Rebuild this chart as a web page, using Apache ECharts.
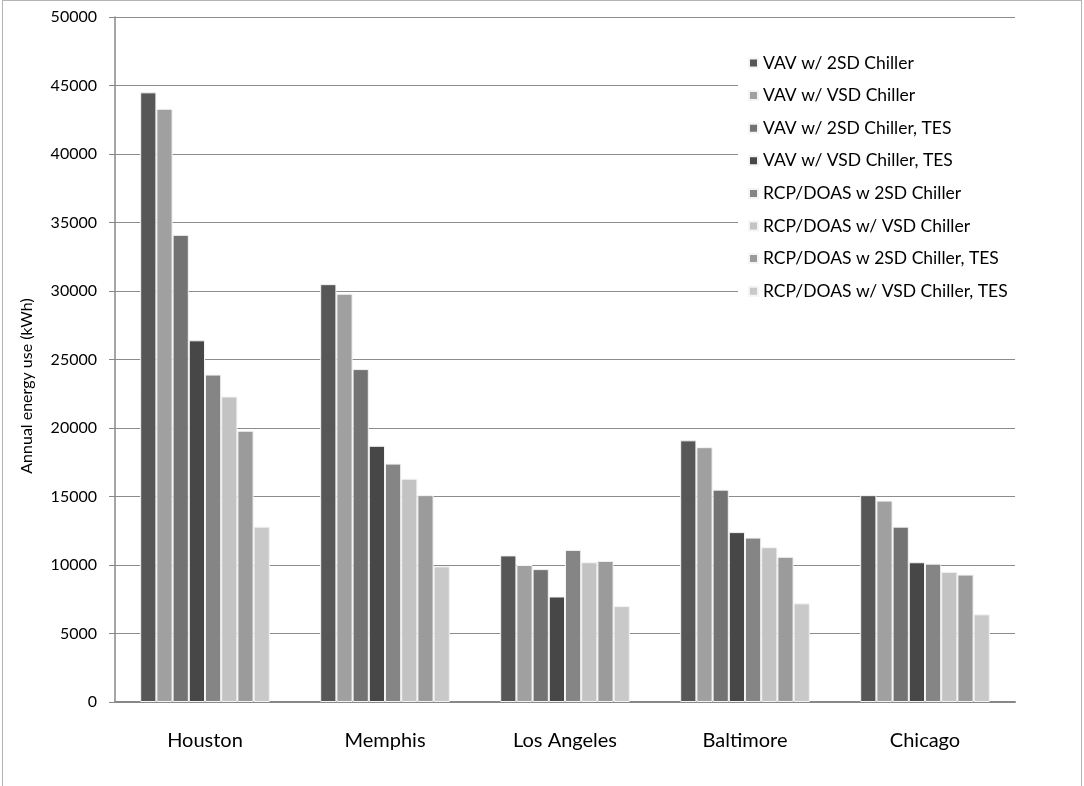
<!DOCTYPE html>
<html>
<head>
<meta charset="utf-8">
<script src="https://cdn.jsdelivr.net/npm/echarts@6/dist/echarts.min.js"></script>
<style>
  html, body { margin: 0; padding: 0; background: #fff; }
  #frame { position: absolute; left: 2px; top: 0; width: 1080px; height: 800px; border: 1px solid #b4b4b4; box-sizing: border-box; }
  #chart { position: absolute; left: 0; top: 0; width: 1084px; height: 786px; }
</style>
</head>
<body>
<div id="frame"></div>
<div id="chart"></div>
<script>
// Cities on the category axis
const cities = ['Houston', 'Memphis', 'Los Angeles', 'Baltimore', 'Chicago'];

// System configurations (one bar series each)
const systems = [
  'VAV w/ 2SD Chiller',
  'VAV w/ VSD Chiller',
  'VAV w/ 2SD Chiller, TES',
  'VAV w/ VSD Chiller, TES',
  'RCP/DOAS w 2SD Chiller',
  'RCP/DOAS w/ VSD Chiller',
  'RCP/DOAS w 2SD Chiller, TES',
  'RCP/DOAS w/ VSD Chiller, TES'
];

// Annual energy use (kWh) per city, one array per system
const vav2sd       = [44500, 30500, 10700, 19100, 15100];
const vavVsd       = [43300, 29800, 10000, 18600, 14700];
const vav2sdTes    = [34100, 24300,  9700, 15500, 12800];
const vavVsdTes    = [26400, 18700,  7700, 12400, 10200];
const rcp2sd       = [23900, 17400, 11100, 12000, 10100];
const rcpVsd       = [22300, 16300, 10200, 11300,  9500];
const rcp2sdTes    = [19800, 15100, 10300, 10600,  9300];
const rcpVsdTes    = [12800,  9900,  7000,  7200,  6400];

const yTitle = 'Annual energy use (kWh)';

const seriesValues = [vav2sd, vavVsd, vav2sdTes, vavVsdTes, rcp2sd, rcpVsd, rcp2sdTes, rcpVsdTes];
const grays = ['#575757', '#a0a0a0', '#737373', '#474747', '#858585', '#c3c3c3', '#9b9b9b', '#c9c9c9'];

const font = 'Lato, "Open Sans", sans-serif';

const chart = echarts.init(document.getElementById('chart'), null, { renderer: 'canvas' });

chart.setOption({
  animation: false,
  backgroundColor: 'transparent',
  color: grays,
  textStyle: { fontFamily: font, color: '#000' },
  grid: { left: 115, right: 69, top: 17, bottom: 84 },
  legend: {
    orient: 'vertical',
    left: 738,
    top: 46,
    padding: [8, 10, 8, 10],
    backgroundColor: '#fff',
    icon: 'rect',
    itemWidth: 9,
    itemHeight: 9,
    itemGap: 14.6,
    textStyle: { fontFamily: font, fontSize: 17.5, color: '#000' },
    data: systems
  },
  // rotated y-axis title, sitting a little below the axis midpoint
  graphic: [{
    type: 'text',
    x: 27,
    y: 386,
    rotation: Math.PI / 2,
    style: {
      text: yTitle,
      font: '16px ' + font,
      fill: '#000',
      align: 'center',
      verticalAlign: 'middle'
    }
  }],
  xAxis: {
    type: 'category',
    data: cities,
    axisLine: { show: true, lineStyle: { color: '#888', width: 2 } },
    axisTick: { show: false },
    axisLabel: { fontFamily: font, fontSize: 20, color: '#000', margin: 29 },
    splitLine: { show: false }
  },
  yAxis: {
    type: 'value',
    min: 0,
    max: 50000,
    interval: 5000,
    axisLine: { show: true, lineStyle: { color: '#888', width: 1.5 } },
    axisTick: { show: true, inside: false, length: 6, lineStyle: { color: '#888' } },
    axisLabel: { fontFamily: font, fontSize: 16, color: '#000', margin: 18, formatter: v => String(v) },
    splitLine: { show: true, lineStyle: { color: '#8c8c8c', width: 1 } }
  },
  series: systems.map((name, i) => ({
    name: name,
    type: 'bar',
    data: seriesValues[i],
    barGap: '0%',
    barCategoryGap: '28%',
    itemStyle: { color: grays[i], borderColor: '#f4f4f4', borderWidth: 1 }
  }))
});
</script>
</body>
</html>
